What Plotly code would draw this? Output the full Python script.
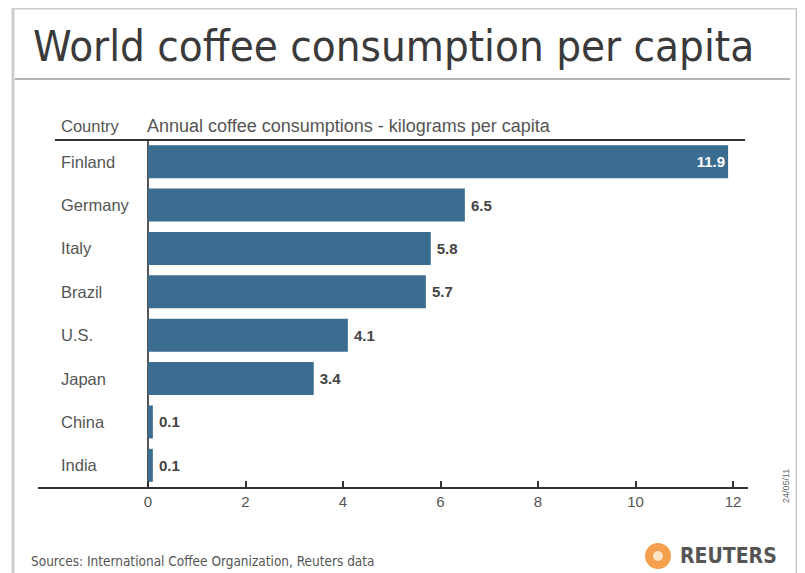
import plotly.graph_objects as go

countries = ["Finland", "Germany", "Italy", "Brazil", "U.S.", "Japan", "China", "India"]
values = [11.9, 6.5, 5.8, 5.7, 4.1, 3.4, 0.1, 0.1]
value_labels = ["11.9", "6.5", "5.8", "5.7", "4.1", "3.4", "0.1", "0.1"]
tick_vals = [0, 2, 4, 6, 8, 10, 12]

# page offset of the figure inside the browser window (body margin)
OFF = 8
W, H = 805, 573
# target pixel positions in the window
AX_LEFT, AX_RIGHT, AX_TOP, AX_BOT = 38, 748, 140, 487
ZERO_PX, UNIT_PX = 148, 48.75

L = AX_LEFT - OFF
T = AX_TOP - OFF
PW = AX_RIGHT - AX_LEFT
PH = AX_BOT - AX_TOP
R = W - L - PW
B = H - T - PH

def px(x):
    return (x - AX_LEFT) / PW

def py(y):
    return (AX_BOT - y) / PH

bar_color = "#3b6d90"
text_dark = "#444444"

positions = ["inside" if v > 10 else "outside" for v in values]
labels_shown = [t if p == "inside" else "\u2009" + t for t, p in zip(value_labels, positions)]

fig = go.Figure()
fig.add_trace(go.Bar(
    x=values, y=countries, orientation="h",
    marker=dict(color=bar_color, line=dict(width=0)),
    width=0.76,
    text=labels_shown, textposition=positions,
    insidetextanchor="end",
    insidetextfont=dict(color="white", size=15, family="Liberation Sans", weight="bold"),
    outsidetextfont=dict(color=text_dark, size=15, family="Liberation Sans", weight="bold"),
    cliponaxis=False,
    hoverinfo="skip",
))

fig.update_layout(
    width=W, height=H,
    margin=dict(l=L, r=R, t=T, b=B, pad=0),
    paper_bgcolor="white", plot_bgcolor="white",
    showlegend=False,
    font=dict(family="Liberation Sans", color=text_dark),
    xaxis=dict(
        range=[-(ZERO_PX - AX_LEFT) / UNIT_PX, (AX_RIGHT - ZERO_PX) / UNIT_PX],
        tickvals=tick_vals, ticktext=[str(t) for t in tick_vals],
        ticks="inside", ticklen=6, tickwidth=1.5, tickcolor="#333333",
        showline=True, linecolor="#333333", linewidth=2,
        showgrid=False,
        zeroline=True, zerolinecolor="#555555", zerolinewidth=2,
        tickfont=dict(size=15, color="#555555"),
        fixedrange=True,
    ),
    yaxis=dict(
        categoryorder="array", categoryarray=countries,
        range=[len(countries) - 0.5, -0.5],
        showticklabels=False, showgrid=False, zeroline=False, showline=False,
        ticks="",
        fixedrange=True,
    ),
)

# country labels, left aligned
for c in countries:
    fig.add_annotation(x=px(59), xref="paper", y=c, yref="y", text=c,
                       showarrow=False, xanchor="left", yanchor="middle",
                       font=dict(size=16.5, color="#555555"))

# header texts
fig.add_annotation(x=px(59), xref="paper", y=py(126), yref="paper", text="Country",
                   showarrow=False, xanchor="left", yanchor="middle",
                   font=dict(size=16.5, color="#555555"))
fig.add_annotation(x=px(145), xref="paper", y=py(126), yref="paper",
                   text="Annual coffee consumptions - kilograms per capita",
                   showarrow=False, xanchor="left", yanchor="middle",
                   font=dict(size=18, color="#555555"))

# title
fig.add_annotation(x=px(31), xref="paper", y=py(46), yref="paper",
                   text="World coffee consumption per capita",
                   showarrow=False, xanchor="left", yanchor="middle",
                   font=dict(size=43.5, color="#3a3a3a", family="DejaVu Sans Condensed"))

# source
fig.add_annotation(x=px(29), xref="paper", y=py(561), yref="paper",
                   text="Sources: International Coffee Organization, Reuters data",
                   showarrow=False, xanchor="left", yanchor="middle",
                   font=dict(size=13.5, color="#555555", family="DejaVu Sans Condensed"))

# date
fig.add_annotation(x=px(786), xref="paper", y=py(486), yref="paper",
                   text="24/05/11", textangle=-90,
                   showarrow=False, xanchor="center", yanchor="middle",
                   font=dict(size=9, color="#666666"))

# Reuters logo text
fig.add_annotation(x=px(678), xref="paper", y=py(556), yref="paper",
                   text="<b>REUTERS</b>",
                   showarrow=False, xanchor="left", yanchor="middle",
                   font=dict(size=21, color="#555555", family="DejaVu Sans Condensed"))

shapes = []
frame_col = "#cccccc"
shapes.append(dict(type="line", xref="paper", yref="paper", x0=px(13), x1=px(13), y0=py(8), y1=py(580),
                   line=dict(color=frame_col, width=3)))
shapes.append(dict(type="line", xref="paper", yref="paper", x0=px(12), x1=px(797), y0=py(8), y1=py(8),
                   line=dict(color=frame_col, width=3)))
shapes.append(dict(type="line", xref="paper", yref="paper", x0=px(797), x1=px(797), y0=py(8), y1=py(580),
                   line=dict(color=frame_col, width=3)))
# title separator
shapes.append(dict(type="line", xref="paper", yref="paper", x0=px(15), x1=px(790), y0=py(79), y1=py(79),
                   line=dict(color="#999999", width=1.5)))
# header top line
shapes.append(dict(type="line", xref="paper", yref="paper", x0=px(55), x1=px(745), y0=py(140), y1=py(140),
                   line=dict(color="#333333", width=2)))
# logo icon
shapes.append(dict(type="circle", xref="paper", yref="paper", x0=px(645), x1=px(671), y0=py(543), y1=py(569),
                   fillcolor="#f4a04f", line=dict(width=0)))
shapes.append(dict(type="circle", xref="paper", yref="paper", x0=px(653), x1=px(663), y0=py(551), y1=py(561),
                   fillcolor="#fde2c4", line=dict(width=0)))
fig.update_layout(shapes=shapes)

fig.write_html("out.html")
